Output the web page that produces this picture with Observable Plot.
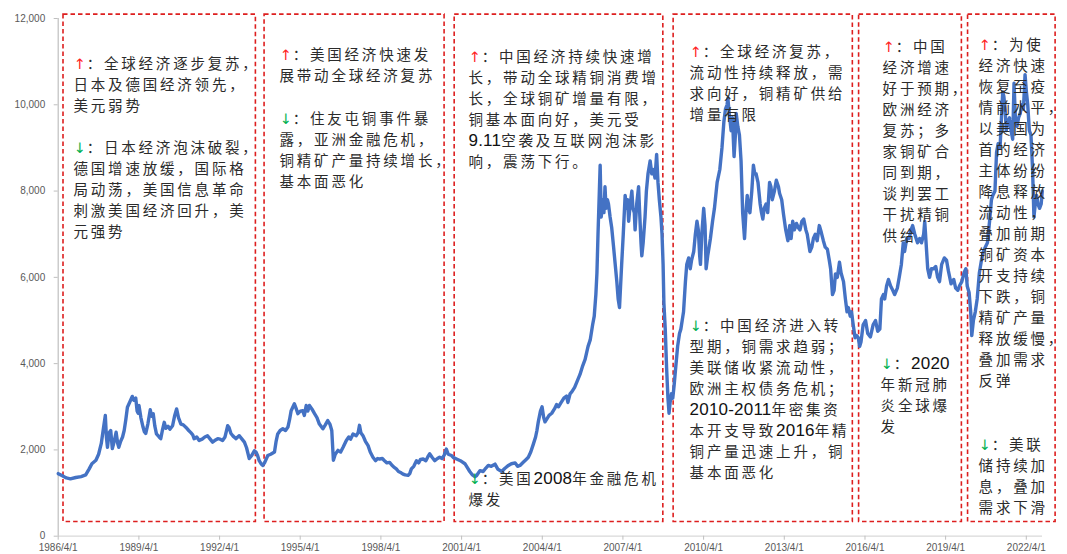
<!DOCTYPE html>
<html>
<head>
<meta charset="utf-8">
<script src="https://cdn.jsdelivr.net/npm/d3@7"></script>
<script src="https://cdn.jsdelivr.net/npm/@observablehq/plot@0.6"></script>
<style>
  html, body { margin: 0; padding: 0; background: #fff; }
  #chart { width: 1067px; height: 554px; overflow: hidden; }
</style>
</head>
<body>
<div id="chart"></div>
<script>
// ---- Data: copper price (USD/t) ----
const priceYears = [
1986.25,1986.4,1986.55,1986.7,1986.9,1987.1,1987.27,1987.4,1987.5,1987.65,1987.75,1987.85,1987.93,1988.0,1988.04,1988.08,1988.14,1988.2,1988.26,1988.33,1988.4,1988.46,1988.5,1988.57,1988.64,1988.7,1988.76,1988.82,1988.9,1989.0,1989.06,1989.13,1989.18,1989.22,1989.25,1989.32,1989.4,1989.45,1989.5,1989.58,1989.67,1989.72,1989.78,1989.84,1989.9,1990.0,1990.06,1990.12,1990.19,1990.25,1990.33,1990.4,1990.5,1990.58,1990.65,1990.72,1990.81,1990.9,1991.0,1991.1,1991.18,1991.25,1991.3,1991.4,1991.49,1991.6,1991.7,1991.8,1991.9,1991.99,1992.1,1992.18,1992.27,1992.36,1992.45,1992.55,1992.6,1992.67,1992.75,1992.86,1992.92,1992.98,1993.08,1993.17,1993.25,1993.35,1993.45,1993.54,1993.6,1993.66,1993.72,1993.79,1993.85,1993.92,1994.04,1994.15,1994.29,1994.35,1994.41,1994.5,1994.6,1994.7,1994.79,1994.85,1994.91,1995.03,1995.1,1995.16,1995.25,1995.34,1995.4,1995.47,1995.53,1995.59,1995.68,1995.78,1995.87,1995.96,1996.09,1996.18,1996.27,1996.35,1996.42,1996.48,1996.55,1996.65,1996.75,1996.84,1996.96,1997.05,1997.12,1997.21,1997.33,1997.4,1997.45,1997.5,1997.58,1997.67,1997.77,1997.85,1997.95,1998.05,1998.12,1998.2,1998.3,1998.38,1998.47,1998.57,1998.65,1998.73,1998.82,1998.9,1999.0,1999.07,1999.15,1999.26,1999.32,1999.38,1999.47,1999.57,1999.65,1999.72,1999.82,1999.92,2000.0,2000.06,2000.15,2000.25,2000.35,2000.43,2000.52,2000.6,2000.68,2000.75,2000.87,2000.95,2001.06,2001.2,2001.37,2001.45,2001.55,2001.65,2001.74,2001.8,2001.93,2002.05,2002.15,2002.24,2002.35,2002.49,2002.6,2002.74,2002.85,2002.99,2003.1,2003.24,2003.33,2003.42,2003.55,2003.65,2003.73,2003.82,2003.92,2004.0,2004.05,2004.1,2004.18,2004.24,2004.3,2004.35,2004.42,2004.5,2004.6,2004.7,2004.78,2004.85,2004.95,2005.05,2005.15,2005.2,2005.28,2005.35,2005.45,2005.55,2005.65,2005.75,2005.84,2005.95,2006.03,2006.12,2006.18,2006.24,2006.28,2006.32,2006.37,2006.4,2006.44,2006.47,2006.5,2006.54,2006.58,2006.62,2006.67,2006.71,2006.77,2006.83,2006.9,2006.96,2007.02,2007.07,2007.12,2007.16,2007.2,2007.26,2007.33,2007.38,2007.42,2007.46,2007.52,2007.58,2007.62,2007.67,2007.7,2007.76,2007.83,2007.87,2007.92,2007.95,2008.0,2008.07,2008.12,2008.18,2008.26,2008.32,2008.38,2008.44,2008.5,2008.55,2008.6,2008.66,2008.7,2008.74,2008.77,2008.82,2008.87,2008.92,2008.96,2009.0,2009.05,2009.1,2009.15,2009.2,2009.28,2009.35,2009.4,2009.45,2009.5,2009.57,2009.62,2009.69,2009.75,2009.8,2009.88,2009.94,2010.0,2010.05,2010.1,2010.13,2010.18,2010.25,2010.3,2010.34,2010.4,2010.45,2010.5,2010.58,2010.65,2010.75,2010.85,2010.93,2011.0,2011.06,2011.12,2011.15,2011.2,2011.27,2011.32,2011.38,2011.43,2011.46,2011.52,2011.58,2011.64,2011.7,2011.77,2011.82,2011.87,2011.92,2011.97,2012.04,2012.1,2012.15,2012.2,2012.27,2012.35,2012.4,2012.45,2012.5,2012.57,2012.63,2012.7,2012.75,2012.8,2012.88,2012.95,2013.03,2013.07,2013.15,2013.22,2013.3,2013.38,2013.45,2013.5,2013.56,2013.62,2013.7,2013.77,2013.83,2013.9,2013.97,2014.05,2014.1,2014.2,2014.27,2014.33,2014.4,2014.47,2014.55,2014.62,2014.7,2014.77,2014.85,2014.92,2014.97,2015.04,2015.1,2015.15,2015.22,2015.3,2015.36,2015.45,2015.52,2015.58,2015.63,2015.7,2015.75,2015.8,2015.88,2015.94,2016.0,2016.05,2016.1,2016.18,2016.27,2016.35,2016.45,2016.55,2016.64,2016.72,2016.8,2016.86,2016.93,2016.98,2017.05,2017.12,2017.2,2017.28,2017.35,2017.45,2017.52,2017.6,2017.67,2017.72,2017.8,2017.89,2017.96,2018.02,2018.1,2018.2,2018.28,2018.35,2018.43,2018.47,2018.52,2018.58,2018.65,2018.72,2018.8,2018.88,2018.95,2019.02,2019.1,2019.2,2019.28,2019.35,2019.45,2019.55,2019.62,2019.7,2019.76,2019.85,2019.93,2020.0,2020.05,2020.12,2020.18,2020.22,2020.28,2020.35,2020.42,2020.5,2020.58,2020.65,2020.72,2020.8,2020.88,2020.95,2021.0,2021.08,2021.14,2021.2,2021.27,2021.33,2021.37,2021.41,2021.46,2021.5,2021.56,2021.62,2021.68,2021.74,2021.79,2021.84,2021.9,2021.96,2022.02,2022.08,2022.14,2022.2,2022.25,2022.3,2022.36,2022.42,2022.48,2022.53,2022.58,2022.63,2022.68,2022.74,2022.8,2022.84
];
const priceValues = [
1450,1400,1350,1330,1360,1380,1420,1560,1680,1760,1900,2150,2500,2800,2300,2060,2400,2450,2030,2200,2410,2150,2060,2200,2300,2450,2700,2990,3100,3240,3150,3200,2900,2850,3030,2750,2530,2420,2380,2600,2930,2780,2840,2550,2370,2300,2260,2450,2640,2500,2550,2480,2560,2800,2950,2750,2600,2580,2520,2450,2400,2350,2260,2300,2220,2250,2300,2330,2250,2180,2230,2260,2250,2220,2300,2560,2520,2380,2320,2260,2300,2330,2250,2180,2050,1800,1880,1980,1950,1870,1750,1680,1640,1700,1870,1900,1950,2200,2370,2450,2490,2450,2530,2700,2910,3070,2950,2840,2900,2910,2800,3030,2900,3030,2950,2840,2750,2600,2490,2580,2680,2600,2450,1760,1900,1990,1950,2060,2220,2300,2250,2370,2330,2400,2570,2400,2330,2200,2100,1950,1830,1750,1800,1790,1800,1750,1700,1710,1650,1600,1560,1500,1470,1440,1420,1410,1450,1560,1620,1750,1700,1780,1790,1750,1850,1910,1830,1750,1800,1830,1800,1880,2020,1900,1870,1820,1790,1750,1680,1600,1500,1420,1380,1400,1520,1500,1580,1640,1620,1670,1550,1500,1570,1640,1680,1700,1620,1640,1720,1780,1830,1950,2140,2300,2450,2650,2900,3000,2750,2650,2720,2800,2850,2950,3050,3000,3100,3200,3250,3100,3300,3350,3450,3600,3750,3950,4100,4400,4550,4900,5100,5600,6100,7000,8000,8600,7400,7600,7800,7500,8100,7600,7800,7700,7400,7150,6700,6300,5900,5500,5300,5800,6300,7000,7900,7600,7800,7300,7700,8000,7600,7500,7100,7700,8100,7500,6800,6500,6800,7400,8000,8400,8700,8400,8500,8300,8850,8200,7800,7400,7000,6300,5400,4800,3900,3200,2850,3100,3300,3200,3500,3850,4400,4700,4800,5000,5200,5900,6300,6450,6200,6400,6600,7000,7300,7100,6500,6300,7000,7600,7200,6200,6500,6700,6900,7300,7600,8200,8500,9000,9600,9900,10000,10150,9800,9400,9700,8800,9300,9800,9500,9300,8700,7500,6900,7500,7900,7600,7500,8000,8600,8400,8400,8200,7700,7500,7350,7600,7700,7500,8200,8100,7800,8000,8250,8100,7950,7800,7450,7100,6850,7200,6900,7300,7100,7250,7150,7100,7300,7350,7100,7000,6600,6700,6900,7000,6850,7200,7050,6850,6700,6650,6400,6200,5600,5700,6080,6000,6350,6100,5900,5500,5200,5300,5100,5200,4950,4600,4650,4600,4400,4500,4900,5000,4700,4620,4900,5000,4750,4800,5500,5600,5500,5800,5950,5800,5700,5600,5750,6000,6300,6800,6600,6900,6900,7100,7200,7000,6800,6900,6800,7000,7300,6800,6200,6000,6200,6200,6250,6000,5900,6300,6450,6400,6150,5850,5950,5750,5700,5800,5900,6100,6200,5800,5650,5200,4650,5000,5200,5500,6100,6400,6600,6700,6800,7300,7800,7900,8000,8900,9100,9000,9800,10300,10200,9900,9400,9600,9700,9400,9200,10500,9700,9500,9700,9800,10000,9900,10700,10300,10000,9400,9300,8500,7400,7700,7900,7700,7600,7700,8000
];

// axis ticks
const xTickLabels = ["1986/4/1","1989/4/1","1992/4/1","1995/4/1","1998/4/1","2001/4/1","2004/4/1","2007/4/1","2010/4/1","2013/4/1","2016/4/1","2019/4/1","2022/4/1"];
const yTickValues = [0, 2000, 4000, 6000, 8000, 10000, 12000];
const xDomainEnd = "2022/11/7";

// dashed period boxes
const boxStarts = ["1986/6/12","1993/12/3","2000/12/28","2009/2/18","2016/1/12","2020/1/31"];
const boxEnds   = ["1993/8/7","2000/8/13","2008/10/1","2015/10/19","2019/11/8","2023/5/4"];
const boxBottom = 330;
const boxTop = 12090;

// annotations
const noteDates = ["1986/10/26","1986/10/26","1994/6/24","1994/6/24","2001/7/4","2001/7/4","2009/9/23","2009/9/23","2016/11/26","2016/10/30","2020/6/22","2020/6/22"];
const noteValues = [11170, 9220, 11375, 9890, 11330, 1550, 11445, 5095, 11560, 4215, 11610, 2340];
const noteTexts = [
"↑：全球经济逐步复苏，\n日本及德国经济领先，\n美元弱势",
"↓：日本经济泡沫破裂，\n德国增速放缓，国际格\n局动荡，美国信息革命\n刺激美国经济回升，美\n元强势",
"↑：美国经济快速发\n展带动全球经济复苏",
"↓：住友屯铜事件暴\n露，亚洲金融危机，\n铜精矿产量持续增长，\n基本面恶化",
"↑：中国经济持续快速增\n长，带动全球精铜消费增\n长，全球铜矿增量有限，\n铜基本面向好，美元受\n9.11空袭及互联网泡沫影\n响，震荡下行。",
"↓：美国2008年金融危机\n爆发",
"↑：全球经济复苏，\n流动性持续释放，需\n求向好，铜精矿供给\n增量有限",
"↓：中国经济进入转\n型期，铜需求趋弱；\n美联储收紧流动性，\n欧洲主权债务危机；\n2010-2011年密集资\n本开支导致2016年精\n铜产量迅速上升，铜\n基本面恶化",
"↑：中国\n经济增速\n好于预期，\n欧洲经济\n复苏；多\n家铜矿合\n同到期，\n谈判罢工\n干扰精铜\n供给",
"↓：2020\n年新冠肺\n炎全球爆\n发",
"↑：为使\n经济快速\n恢复至疫\n情前水平，\n以美国为\n首的经济\n主体纷纷\n降息释放\n流动性，\n叠加前期\n铜矿资本\n开支持续\n下跌，铜\n精矿产量\n释放缓慢，\n叠加需求\n反弹",
"↓：美联\n储持续加\n息，叠加\n需求下滑"
];

// ---- build tables ----
const parseYMD = s => { const [y, m, d] = s.split("/").map(Number); return new Date(Date.UTC(y, m - 1, d)); };
const yearToDate = v => { const y = Math.floor(v); const a = Date.UTC(y, 0, 1), b = Date.UTC(y + 1, 0, 1); return new Date(a + (v - y) * (b - a)); };

const prices = priceYears.map((y, i) => ({date: yearToDate(y), value: priceValues[i]}));
const xTicks = xTickLabels.map(parseYMD);
const labelByTime = new Map(xTicks.map((d, i) => [+d, xTickLabels[i]]));
const boxes = boxStarts.map((s, i) => ({x1: parseYMD(s), x2: parseYMD(boxEnds[i]), y1: boxBottom, y2: boxTop}));
const notes = noteTexts.map((t, i) => ({x: parseYMD(noteDates[i]), y: noteValues[i], text: t}));

const chart = Plot.plot({
  width: 1067,
  height: 554,
  marginLeft: 57.7,
  marginRight: 25,
  marginTop: 18,
  marginBottom: 18.3,
  style: {background: "#fff", color: "#595959", fontFamily: "'Liberation Sans', Arial, sans-serif", overflow: "visible"},
  x: {type: "utc", domain: [xTicks[0], parseYMD(xDomainEnd)]},
  y: {domain: [0, 12000]},
  marks: [
    Plot.rect(boxes, {x1: "x1", x2: "x2", y1: "y1", y2: "y2", fill: "none", stroke: "#dd1f1f", strokeWidth: 1.6, strokeDasharray: "4.5,3"}),
    Plot.ruleY([0], {stroke: "#d9d9d9", strokeWidth: 1.2}),
    Plot.ruleX([xTicks[0]], {y1: 0, y2: 12000, stroke: "#bfbfbf", strokeWidth: 1.2}),
    Plot.axisX({ticks: xTicks, tickFormat: d => labelByTime.get(+d), tickSize: 4, tickPadding: 4, stroke: "#bfbfbf", fill: "#595959", fontSize: 10, label: null}),
    Plot.axisY({ticks: yTickValues, tickFormat: d3.format(","), tickSize: 4, tickPadding: 9, stroke: "#bfbfbf", fill: "#595959", fontSize: 10, label: null}),
    Plot.line(prices, {x: "date", y: "value", stroke: "#4472C4", strokeWidth: 3.4, strokeLinejoin: "round"}),
    Plot.text(notes, {x: "x", y: "y", text: "text", textAnchor: "start", lineAnchor: "top", lineHeight: 1.448, fontSize: 14.5, fill: "#2b2b2b", fontFamily: "'Noto Sans CJK SC', sans-serif"})
  ]
});

document.getElementById("chart").appendChild(chart);

// colour the arrows, space the CJK glyphs and set digit runs in a Latin face
const svgNS = "http://www.w3.org/2000/svg";
chart.querySelectorAll('g[aria-label="text"] text').forEach(t => t.setAttribute("letter-spacing", "2.8"));
chart.querySelectorAll('g[aria-label="text"] text, g[aria-label="text"] tspan').forEach(el => {
  const n = el.firstChild;
  if (!n || n.nodeType !== 3) return;
  const parts = n.nodeValue.split(/([↑↓]|[0-9][0-9.\-]*)/).filter(p => p);
  if (parts.length < 2) return;
  el.removeChild(n);
  for (const p of parts) {
    const t = document.createElementNS(svgNS, "tspan");
    t.textContent = p;
    if (p === "↑" || p === "↓") {
      t.setAttribute("fill", p === "↑" ? "#ff2020" : "#00b050");
      t.setAttribute("font-family", "'DejaVu Sans', sans-serif");
      t.setAttribute("letter-spacing", "1");
    } else if (/^[0-9]/.test(p)) {
      t.setAttribute("font-family", "'Liberation Sans', Arial, sans-serif");
      t.setAttribute("font-size", "17");
      t.setAttribute("letter-spacing", "0.2");
      t.setAttribute("fill", "#111");
    }
    el.appendChild(t);
  }
});
</script>
</body>
</html>
